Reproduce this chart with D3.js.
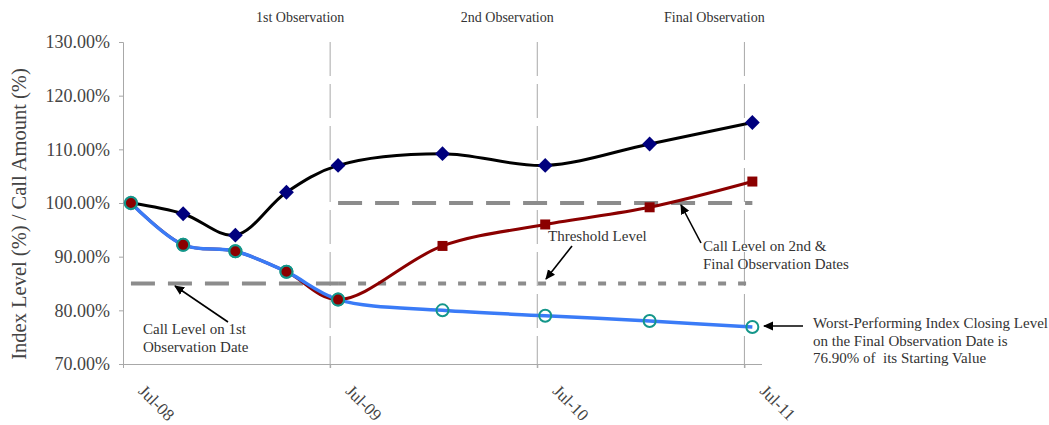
<!DOCTYPE html>
<html>
<head>
<meta charset="utf-8">
<script src="https://cdn.jsdelivr.net/npm/d3@7"></script>
<style>
  html, body { margin: 0; padding: 0; background: #fff; }
  svg { display: block; }
  text { font-family: "Liberation Serif", "Times New Roman", serif; }
</style>
</head>
<body>
<svg id="chart" width="1049" height="425"></svg>
<script>
// Observation dates (mid-month closes)
const dates = ["2008-07-15", "2008-10-15", "2009-01-15", "2009-04-15", "2009-07-15",
               "2010-01-15", "2010-07-15", "2011-01-15", "2011-07-15"];
// Index levels, % of starting value
const upperIndex = [100, 98, 94, 102, 107, 109.2, 107, 111, 115];
const worstIndex = [100, 92.2, 91, 87.2, 82, 80, 79, 78, 76.9];
// Call amount, % of principal
const callAmount = [100, 92.2, 91, 87.2, 82, 92, 96, 99.2, 104];

// Axis ticks
const yTicks = [70, 80, 90, 100, 110, 120, 130];
const xTickDates = ["2008-07-01", "2009-07-01", "2010-07-01", "2011-07-01"];
const xTickLabels = ["Jul-08", "Jul-09", "Jul-10", "Jul-11"];

// Observation schedule
const observationDates = ["2009-07-01", "2010-07-01", "2011-07-01"];
const observationLabels = ["1st Observation", "2nd Observation", "Final Observation"];

// Reference levels
const callLevelFirst = 85;
const thresholdLevel = 85;
const callLevelLater = 100;

const parse = d3.utcParse("%Y-%m-%d");
const svg = d3.select("#chart");

const x = d3.scaleUtc()
  .domain([parse("2008-07-01"), parse("2011-08-01")])
  .range([123, 762]);
const y = d3.scaleLinear().domain([70, 130]).range([364, 42]);

const pts = (vals) => dates.map((d, i) => ({ date: parse(d), value: vals[i] }));

// arrow head
svg.append("defs").append("marker")
  .attr("id", "arrow")
  .attr("viewBox", "0 0 10 10")
  .attr("refX", 9).attr("refY", 5)
  .attr("markerWidth", 10).attr("markerHeight", 10)
  .attr("markerUnits", "userSpaceOnUse")
  .attr("orient", "auto")
  .append("path").attr("d", "M0,0.5 L10,5 L0,9.5 Z").attr("fill", "#000");

// Observation gridlines
svg.append("g").selectAll("line")
  .data(observationDates)
  .join("line")
  .attr("x1", d => x(parse(d))).attr("x2", d => x(parse(d)))
  .attr("y1", y(130)).attr("y2", y(70) + 4)
  .attr("stroke", "#a8a8a8").attr("stroke-width", 1)
  .attr("stroke-dasharray", "34,8");

svg.append("g").selectAll("text")
  .data(observationLabels)
  .join("text")
  .attr("x", (d, i) => x(parse(observationDates[i])) - 30)
  .attr("y", 22)
  .attr("text-anchor", "middle")
  .attr("font-size", 14)
  .attr("fill", "#333")
  .text(d => d);

// Y axis
const yAxis = svg.append("g")
  .attr("transform", `translate(${x.range()[0]},0)`)
  .call(d3.axisLeft(y).tickValues(yTicks).tickSize(4).tickPadding(9)
    .tickFormat(d => d.toFixed(2) + "%"));
yAxis.select(".domain").attr("stroke", "#a8a8a8");
yAxis.selectAll(".tick line").attr("stroke", "#a8a8a8");
yAxis.selectAll(".tick text")
  .attr("font-family", "Liberation Serif, serif")
  .attr("font-size", 18).attr("fill", "#444");

// X axis
const xAxis = svg.append("g")
  .attr("transform", `translate(0,${y(70)})`)
  .call(d3.axisBottom(x).tickValues(xTickDates.map(parse)).tickSize(4)
    .tickFormat((d, i) => xTickLabels[i]));
xAxis.select(".domain").attr("stroke", "#a8a8a8").attr("d", `M${x.range()[0]},0.5H${x.range()[1]}`);
xAxis.selectAll(".tick line").attr("stroke", "#a8a8a8");
xAxis.selectAll(".tick text")
  .attr("font-family", "Liberation Serif, serif")
  .attr("font-size", 17).attr("fill", "#444")
  .attr("text-anchor", "start")
  .attr("transform", "translate(14,28) rotate(45)")
  .attr("x", 0).attr("y", 0).attr("dy", "0");

// Y axis title
svg.append("text")
  .attr("transform", "translate(26,214) rotate(-90)")
  .attr("text-anchor", "middle")
  .attr("font-size", 20.5)
  .attr("fill", "#444")
  .text("Index Level (%) / Call Amount (%)");

// Reference level lines
const first = parse(dates[0]);
const last = parse(dates[dates.length - 1]);
const firstObs = parse(dates[4]);
svg.append("line")
  .attr("x1", x(firstObs)).attr("x2", x(last))
  .attr("y1", y(thresholdLevel)).attr("y2", y(thresholdLevel))
  .attr("stroke", "#8c8c8c").attr("stroke-width", 4)
  .attr("stroke-dasharray", "8,12");
svg.append("line")
  .attr("x1", x(first)).attr("x2", x(firstObs))
  .attr("y1", y(callLevelFirst)).attr("y2", y(callLevelFirst))
  .attr("stroke", "#8c8c8c").attr("stroke-width", 4)
  .attr("stroke-dasharray", "24,13");
svg.append("line")
  .attr("x1", x(firstObs)).attr("x2", x(last))
  .attr("y1", y(callLevelLater)).attr("y2", y(callLevelLater))
  .attr("stroke", "#8c8c8c").attr("stroke-width", 4)
  .attr("stroke-dasharray", "24,13");

// Series lines
const line = d3.line()
  .x(d => x(d.date)).y(d => y(d.value))
  .curve(d3.curveCatmullRom.alpha(0.5));

svg.append("path").datum(pts(callAmount))
  .attr("d", line).attr("fill", "none")
  .attr("stroke", "#8b0000").attr("stroke-width", 3);
svg.append("path").datum(pts(worstIndex))
  .attr("d", line).attr("fill", "none")
  .attr("stroke", "#3a7bf7").attr("stroke-width", 3.5);
svg.append("path").datum(pts(upperIndex))
  .attr("d", line).attr("fill", "none")
  .attr("stroke", "#000").attr("stroke-width", 3);

// Upper index markers
svg.append("g").selectAll("path")
  .data(pts(upperIndex))
  .join("path")
  .attr("transform", d => `translate(${x(d.date)},${y(d.value)}) rotate(45)`)
  .attr("d", d3.symbol(d3.symbolSquare, 110))
  .attr("fill", "#00007e");

// Worst-index markers
svg.append("g").selectAll("circle")
  .data(pts(worstIndex))
  .join("circle")
  .attr("cx", d => x(d.date)).attr("cy", d => y(d.value))
  .attr("r", 6)
  .attr("fill", "none")
  .attr("stroke", "#14968a").attr("stroke-width", 2);

// Call amount markers: circles up to the first observation, squares after
const callPts = pts(callAmount);
svg.append("g").selectAll("circle")
  .data(callPts.filter(d => d.date <= firstObs))
  .join("circle")
  .attr("cx", d => x(d.date)).attr("cy", d => y(d.value))
  .attr("r", 6)
  .attr("fill", "#8b0000")
  .attr("stroke", "#14968a").attr("stroke-width", 2);
svg.append("g").selectAll("path")
  .data(callPts.filter(d => d.date > firstObs))
  .join("path")
  .attr("transform", d => `translate(${x(d.date)},${y(d.value)})`)
  .attr("d", d3.symbol(d3.symbolSquare, 100))
  .attr("fill", "#8b0000");

// Annotations
const notes = [
  { lines: ["Call Level on 1st", "Observation Date"], tx: 143, ty: 334, from: [228, 322], to: [175, 286] },
  { lines: ["Threshold Level"], tx: 548, ty: 241, from: [572, 246], to: [546, 279] },
  { lines: ["Call Level on 2nd &", "Final Observation Dates"], tx: 703, ty: 251, from: [701, 243], to: [681, 205] },
  { lines: ["Worst-Performing Index Closing Level", "on the Final Observation Date is", "76.90% of  its Starting Value"],
    tx: 813, ty: 328, from: [803, 326], to: [764, 326] }
];
const ng = svg.append("g");
notes.forEach(n => {
  ng.append("line")
    .attr("x1", n.from[0]).attr("y1", n.from[1])
    .attr("x2", n.to[0]).attr("y2", n.to[1])
    .attr("stroke", "#000").attr("stroke-width", 1.6)
    .attr("marker-end", "url(#arrow)");
  const t = ng.append("text")
    .attr("x", n.tx).attr("y", n.ty)
    .attr("font-size", 15).attr("fill", "#333")
    .style("white-space", "pre");
  n.lines.forEach((l, i) => {
    t.append("tspan").attr("x", n.tx).attr("dy", i === 0 ? 0 : 17.5).text(l);
  });
});
</script>
</body>
</html>
